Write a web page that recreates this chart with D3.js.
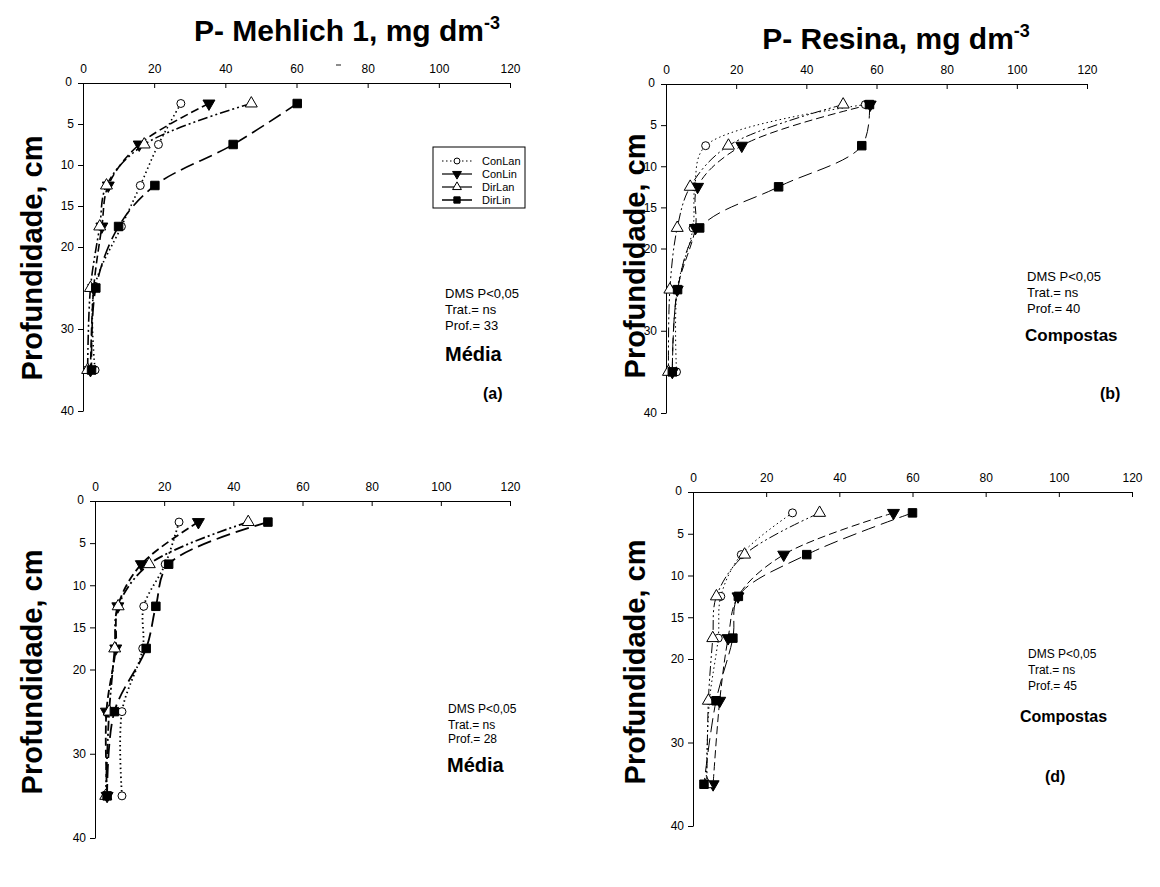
<!DOCTYPE html>
<html><head><meta charset="utf-8">
<script src="https://cdn.jsdelivr.net/npm/d3@7"></script>
<style>body{margin:0;background:#fff} text{font-family:"Liberation Sans",Arial,sans-serif;fill:#000}</style>
</head><body><svg id="c" width="1160" height="887"></svg>
<script>
const depths=[2.5,7.5,12.5,17.5,25,35];
const seriesNames=["ConLan","ConLin","DirLan","DirLin"];
const xTicks=[0,20,40,60,80,100,120];
const yTicks=[0,5,10,15,20,30,40];
// (a) P- Mehlich 1, Média
const aConLan=[27.5,21.2,16.1,10.8,3.2,3.4];
const aConLin=[35.4,15.8,7.1,5.3,3.0,2.1];
const aDirLan=[47.3,17.2,6.6,4.7,2.1,1.3];
const aDirLin=[60.2,42.2,20.2,10.0,3.6,2.4];
// (b) P- Resina, Compostas
const bConLan=[56.8,11.3,8.2,7.7,3.2,3.0];
const bConLin=[58.2,21.6,9.0,8.4,3.2,1.8];
const bDirLan=[50.5,17.8,6.9,3.2,1.1,0.7];
const bDirLin=[58.0,55.8,32.1,9.6,3.3,1.8];
// (c) P- Mehlich 1, Média
const cConLan=[24.3,20.3,14.1,13.8,7.8,7.8];
const cConLin=[29.9,13.4,6.6,6.0,3.3,3.5];
const cDirLan=[44.3,15.7,6.7,5.7,4.1,3.1];
const cDirLin=[50.0,21.3,17.6,14.8,5.6,3.5];
// (d) P- Resina, Compostas
const dConLan=[27.2,13.2,7.6,6.9,4.5,3.6];
const dConLin=[54.8,24.8,12.3,9.6,7.3,5.5];
const dDirLan=[34.6,14.1,6.4,5.4,4.2,3.8];
const dDirLin=[60.0,31.1,12.4,10.9,6.3,3.0];

const styles={
  ConLan:{dash:"1.5,3",sym:"circle",fill:"#fff"},
  ConLin:{dash:"8,4",sym:"tridown",fill:"#000"},
  DirLan:{dash:"10,3,2,3,2,3",sym:"triup",fill:"#fff"},
  DirLin:{dash:"14,6",sym:"square",fill:"#000"}
};

const panels=[
 {id:"a",x0:83,x1:510,y0:83,y1:411,lw:1.6,data:[aConLan,aConLin,aDirLan,aDirLin],
  title:"P- Mehlich 1, mg dm",tx:347,ty:41,ylx:42,yly:258,legend:true,
  notes:[["DMS P<0,05",445,298,13,false],["Trat.= ns",445,314,13,false],["Prof.= 33",445,330,13,false],["Média",445,361,20,true],["(a)",483,399,16,true]]},
 {id:"b",x0:666,x1:1087,y0:84,y1:413,lw:1,data:[bConLan,bConLin,bDirLan,bDirLin],
  title:"P- Resina, mg dm",tx:896,ty:49,ylx:645,yly:256,
  notes:[["DMS P<0,05",1027,281,13,false],["Trat.= ns",1027,297,13,false],["Prof.= 40",1027,313,13,false],["Compostas",1025,341,17,true],["(b)",1100,399,16,true]]},
 {id:"c",x0:95,x1:510,y0:501,y1:838,lw:1.8,data:[cConLan,cConLin,cDirLan,cDirLin],
  ylx:42,yly:672,
  notes:[["DMS P<0,05",448,713,12,false],["Trat.= ns",448,729,12,false],["Prof.= 28",448,743,12,false],["Média",447,772,20,true]]},
 {id:"d",x0:693,x1:1132,y0:492,y1:826,lw:1,data:[dConLan,dConLin,dDirLan,dDirLin],
  ylx:645,yly:662,
  notes:[["DMS P<0,05",1028,658,12,false],["Trat.= ns",1028,674,12,false],["Prof.= 45",1028,690,12,false],["Compostas",1020,722,16,true],["(d)",1045,782,16,true]]}
];

const svg=d3.select("#c");

function drawSym(g,type,x,y,fill,scale){
  scale=scale||1;
  let path;
  if(type==="circle") path=d3.symbol(d3.symbolCircle,50*scale)();
  else if(type==="square") path=d3.symbol(d3.symbolSquare,72*scale)();
  else path=d3.symbol(d3.symbolTriangle,62*scale)();
  const rot=type==="tridown"?180:0;
  g.append("path").attr("d",path)
   .attr("transform",`translate(${x},${y}) rotate(${rot})`)
   .attr("fill",fill).attr("stroke","#000").attr("stroke-width",1);
}

panels.forEach(p=>{
  const x=d3.scaleLinear().domain([0,120]).range([p.x0,p.x1]);
  const y=d3.scaleLinear().domain([0,40]).range([p.y0,p.y1]);
  const g=svg.append("g");
  const xa=g.append("g").attr("transform",`translate(0,${p.y0})`)
    .call(d3.axisTop(x).tickValues(xTicks).tickSize(-5).tickSizeOuter(0).tickPadding(10));
  xa.select(".domain").attr("stroke","#000");
  xa.selectAll("text").attr("font-size",12).attr("font-family","Liberation Sans, Arial");
  const ya=g.append("g").attr("transform",`translate(${p.x0},0)`)
    .call(d3.axisLeft(y).tickValues(yTicks).tickSize(5).tickSizeOuter(0).tickPadding(4));
  ya.selectAll("text").attr("font-size",12).attr("font-family","Liberation Sans, Arial");
  ya.selectAll(".tick").filter(d=>d===0).select("text").attr("dx",-2).attr("dy","0.2em");
  svg.append("text").attr("transform",`translate(${p.ylx},${p.yly}) rotate(-90)`)
    .attr("text-anchor","middle").attr("font-size",29).attr("font-weight","bold")
    .text("Profundidade, cm");
  if(p.title){
    const t=svg.append("text").attr("x",p.tx).attr("y",p.ty).attr("text-anchor","middle")
      .attr("font-size",30).attr("font-weight","bold");
    t.append("tspan").text(p.title);
    t.append("tspan").attr("font-size",18).attr("dy",-12).text("-3");
  }
  seriesNames.forEach((s,i)=>{
    const vals=p.data[i];
    const pts=vals.map((v,j)=>[x(v),y(depths[j])]);
    g.append("path").attr("d",d3.line().curve(d3.curveCatmullRom.alpha(0.5))(pts))
      .attr("fill","none").attr("stroke","#000").attr("stroke-width",p.lw)
      .attr("stroke-dasharray",styles[s].dash);
  });
  seriesNames.forEach((s,i)=>{
    p.data[i].forEach((v,j)=>drawSym(g,styles[s].sym,x(v),y(depths[j]),styles[s].fill));
  });
  p.notes.forEach(n=>{
    svg.append("text").attr("x",n[1]).attr("y",n[2]).attr("font-size",n[3])
      .attr("font-weight",n[4]?"bold":"normal").text(n[0]);
  });
  if(p.legend){
    const lg=svg.append("g");
    lg.append("rect").attr("x",433).attr("y",147).attr("width",92).attr("height",61)
      .attr("fill","#fff").attr("stroke","#000").attr("stroke-width",1);
    seriesNames.forEach((s,i)=>{
      const ly=161+i*13;
      lg.append("line").attr("x1",442).attr("x2",472).attr("y1",ly).attr("y2",ly)
        .attr("stroke","#000").attr("stroke-width",s==="DirLin"?1.5:1.2)
        .attr("stroke-dasharray",s==="ConLan"?"1.5,2.5":null);
      drawSym(lg,styles[s].sym,457,ly,styles[s].fill,0.55);
      lg.append("text").attr("x",482).attr("y",ly+4).attr("font-size",11).text(s);
    });
  }
});
svg.append("line").attr("x1",336).attr("x2",341).attr("y1",65).attr("y2",65).attr("stroke","#666").attr("stroke-width",1.5);
</script></body></html>
